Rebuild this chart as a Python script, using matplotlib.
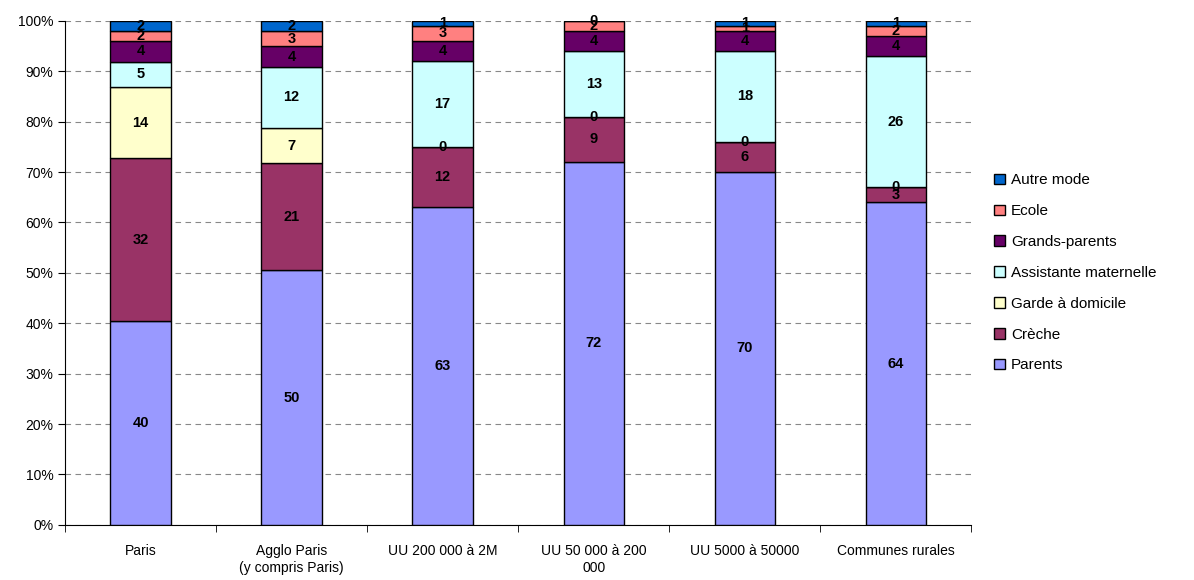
import matplotlib.pyplot as plt
import numpy as np

plt.rcParams['font.family'] = ['Liberation Sans', 'DejaVu Sans']

categories = ["Paris", "Agglo Paris\n(y compris Paris)", "UU 200 000 à 2M",
              "UU 50 000 à 200\n000", "UU 5000 à 50000", "Communes rurales"]
series_names = ["Parents", "Crèche", "Garde à domicile", "Assistante maternelle",
                "Grands-parents", "Ecole", "Autre mode"]
parents = [40, 50, 63, 72, 70, 64]
creche = [32, 21, 12, 9, 6, 3]
garde = [14, 7, 0, 0, 0, 0]
assistante = [5, 12, 17, 13, 18, 26]
grands_parents = [4, 4, 4, 4, 4, 4]
ecole = [2, 3, 3, 2, 1, 2]
autre = [2, 2, 1, 0, 1, 1]
colors = ["#9999FF", "#993366", "#FFFFCC", "#CCFFFF", "#660066", "#FF8080", "#0066CC"]

data = np.array([parents, creche, garde, assistante, grands_parents, ecole, autre], dtype=float)
share = data / data.sum(axis=0) * 100

fig = plt.figure(figsize=(11.94, 5.8), dpi=100)
ax = fig.add_axes([0.0545, 0.095, 0.759, 0.869])

x = np.arange(len(categories))
bottom = np.zeros(len(categories))
handles = []
for i, name in enumerate(series_names):
    bars = ax.bar(x, share[i], 0.4, bottom=bottom, color=colors[i],
                  edgecolor="black", linewidth=1, label=name, zorder=3)
    handles.append(bars)
    for j in range(len(categories)):
        ax.text(x[j], bottom[j] + share[i][j] / 2, "%d" % data[i][j],
                ha="center", va="center", fontsize=10.5, fontweight="bold", zorder=4)
    bottom += share[i]

ax.set_xlim(-0.5, len(categories) - 0.5)
ax.set_ylim(0, 100)
ax.set_yticks(np.arange(0, 101, 10))
ax.set_yticklabels(["%d%%" % v for v in range(0, 101, 10)], fontsize=10)
ax.yaxis.grid(True, linestyle=(0, (5, 4)), color="#888888", linewidth=0.8, zorder=0)

ax.set_xticks(x)
ax.set_xticklabels(categories, fontsize=10)
ax.tick_params(axis="x", length=0, pad=14)
ax.set_xticks(np.arange(-0.5, len(categories)), minor=True)
ax.tick_params(axis="x", which="minor", length=5, direction="out")
ax.tick_params(axis="y", length=5, direction="out")

for s in ["top", "right"]:
    ax.spines[s].set_visible(False)

ax.legend(handles[::-1], series_names[::-1], loc="center left",
          bbox_to_anchor=(1.01, 0.5), frameon=False, fontsize=11,
          handlelength=0.7, handleheight=0.7, handletextpad=0.4, labelspacing=1.1)

fig.savefig("out.png", dpi=100)
